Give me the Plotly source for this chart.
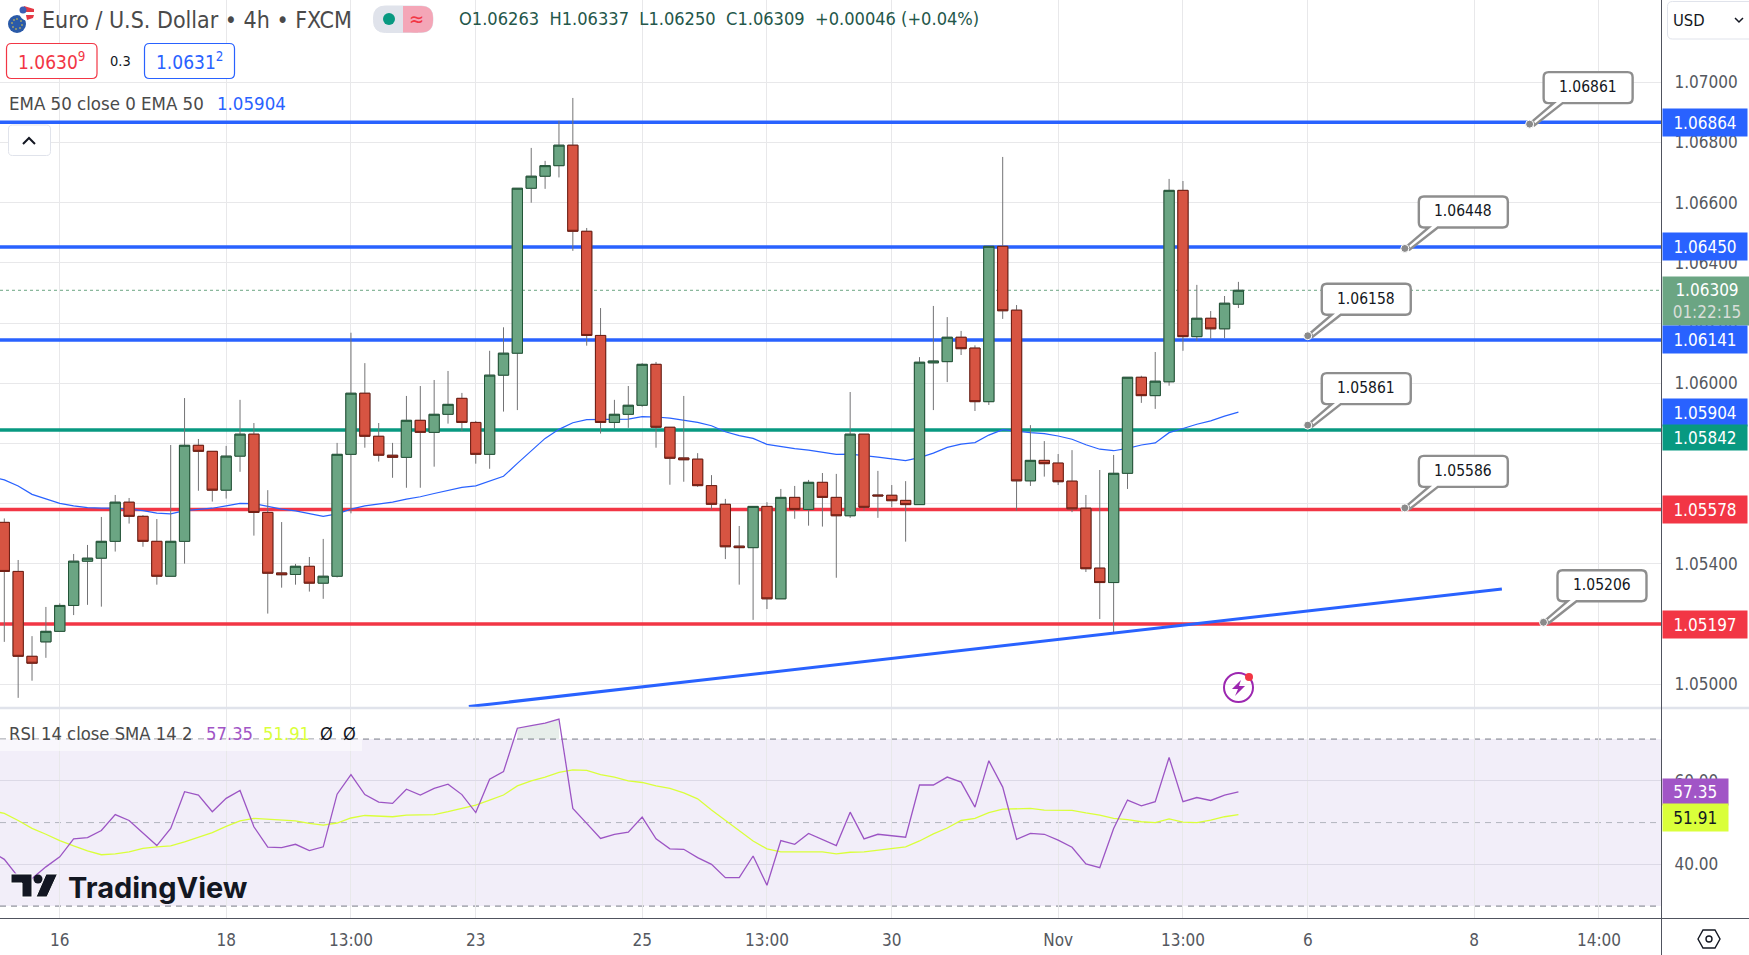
#!/usr/bin/env python3
import numpy as np
import plotly.graph_objects as go
from plotly.subplots import make_subplots

W, H = 1749, 955
FONT = "DejaVu Sans Condensed, DejaVu Sans"

# OHLC, one value per 4h candle
opens = [
    1.05538, 1.05375, 1.05093, 1.05141, 1.05176, 1.05262, 1.05409, 1.05419, 1.05475, 1.05605,
    1.05558, 1.05475, 1.05359, 1.05475, 1.05794, 1.05774, 1.05645, 1.05758, 1.05831, 1.05571,
    1.05370, 1.05365, 1.05392, 1.05336, 1.05359, 1.05764, 1.05967, 1.05824, 1.05761, 1.05754,
    1.05877, 1.05837, 1.05897, 1.05950, 1.05870, 1.05764, 1.06027, 1.06100, 1.06648, 1.06688,
    1.06723, 1.06791, 1.06505, 1.06159, 1.05870, 1.05897, 1.05927, 1.06063, 1.05854, 1.05752,
    1.05748, 1.05660, 1.05598, 1.05459, 1.05454, 1.05591, 1.05284, 1.05621, 1.05581, 1.05671,
    1.05621, 1.05560, 1.05831, 1.05629, 1.05628, 1.05611, 1.05597, 1.06068, 1.06072, 1.06153,
    1.06117, 1.05939, 1.06455, 1.06243, 1.05676, 1.05744, 1.05735, 1.05675, 1.05585, 1.05386,
    1.05338, 1.05701, 1.06020, 1.05959, 1.06005, 1.06641, 1.06155, 1.06216, 1.06181, 1.06263,
]
closes = [
    1.05375, 1.05093, 1.05070, 1.05176, 1.05262, 1.05409, 1.05419, 1.05475, 1.05605, 1.05558,
    1.05475, 1.05359, 1.05475, 1.05794, 1.05774, 1.05645, 1.05758, 1.05831, 1.05571, 1.05369,
    1.05364, 1.05392, 1.05336, 1.05359, 1.05764, 1.05967, 1.05824, 1.05761, 1.05754, 1.05877,
    1.05837, 1.05897, 1.05930, 1.05870, 1.05764, 1.06027, 1.06100, 1.06648, 1.06688, 1.06723,
    1.06791, 1.06505, 1.06159, 1.05870, 1.05897, 1.05927, 1.06063, 1.05854, 1.05751, 1.05746,
    1.05660, 1.05598, 1.05457, 1.05454, 1.05591, 1.05284, 1.05621, 1.05581, 1.05671, 1.05621,
    1.05560, 1.05831, 1.05588, 1.05626, 1.05610, 1.05597, 1.06070, 1.06074, 1.06153, 1.06115,
    1.05939, 1.06455, 1.06241, 1.05676, 1.05744, 1.05733, 1.05673, 1.05583, 1.05384, 1.05338,
    1.05701, 1.06020, 1.05959, 1.06007, 1.06641, 1.06155, 1.06216, 1.06181, 1.06266, 1.06309,
]
highs = [
    1.05551, 1.05413, 1.05160, 1.05257, 1.05269, 1.05433, 1.05463, 1.05556, 1.05629, 1.05619,
    1.05562, 1.05549, 1.05795, 1.05951, 1.05815, 1.05774, 1.05792, 1.05945, 1.05868, 1.05645,
    1.05539, 1.05400, 1.05423, 1.05483, 1.05802, 1.06168, 1.06067, 1.05868, 1.05802, 1.05958,
    1.05991, 1.06011, 1.06041, 1.05968, 1.05875, 1.06108, 1.06186, 1.06648, 1.06782, 1.06739,
    1.06872, 1.06948, 1.06516, 1.06250, 1.05945, 1.05991, 1.06067, 1.06071, 1.05854, 1.05958,
    1.05768, 1.05695, 1.05616, 1.05526, 1.05591, 1.05605, 1.05649, 1.05659, 1.05679, 1.05702,
    1.05699, 1.05971, 1.05831, 1.05709, 1.05662, 1.05675, 1.06087, 1.06257, 1.06220, 1.06174,
    1.06126, 1.06455, 1.06752, 1.06260, 1.05861, 1.05808, 1.05765, 1.05778, 1.05629, 1.05712,
    1.05762, 1.06020, 1.06025, 1.06104, 1.06679, 1.06672, 1.06327, 1.06240, 1.06290, 1.06337,
]
lows = [
    1.05141, 1.04955, 1.05012, 1.05088, 1.05176, 1.05230, 1.05264, 1.05258, 1.05441, 1.05534,
    1.05457, 1.05331, 1.05359, 1.05401, 1.05643, 1.05607, 1.05617, 1.05706, 1.05494, 1.05235,
    1.05321, 1.05331, 1.05308, 1.05284, 1.05355, 1.05568, 1.05786, 1.05740, 1.05686, 1.05653,
    1.05653, 1.05723, 1.05866, 1.05842, 1.05733, 1.05716, 1.05906, 1.05911, 1.06600, 1.06646,
    1.06684, 1.06440, 1.06125, 1.05833, 1.05850, 1.05852, 1.05922, 1.05786, 1.05663, 1.05673,
    1.05656, 1.05580, 1.05416, 1.05331, 1.05214, 1.05250, 1.05284, 1.05550, 1.05527, 1.05524,
    1.05354, 1.05553, 1.05577, 1.05553, 1.05588, 1.05474, 1.05597, 1.05911, 1.06004, 1.06094,
    1.05908, 1.05928, 1.06214, 1.05577, 1.05659, 1.05690, 1.05662, 1.05572, 1.05373, 1.05217,
    1.05167, 1.05649, 1.05935, 1.05915, 1.05992, 1.06108, 1.06141, 1.06148, 1.06150, 1.06250,
]
# indicator series start one bar earlier, off the left edge
ema50 = [
    1.05690,
    1.05679, 1.05659, 1.05631, 1.05616, 1.05601, 1.05593, 1.05587, 1.05585, 1.05585, 1.05582,
    1.05577, 1.05569, 1.05566, 1.05577, 1.05582, 1.05585, 1.05593, 1.05601, 1.05600, 1.05590,
    1.05582, 1.05576, 1.05567, 1.05558, 1.05566, 1.05582, 1.05593, 1.05600, 1.05605, 1.05615,
    1.05623, 1.05634, 1.05645, 1.05654, 1.05659, 1.05674, 1.05691, 1.05734, 1.05776, 1.05817,
    1.05847, 1.05869, 1.05879, 1.05879, 1.05879, 1.05881, 1.05889, 1.05888, 1.05884, 1.05878,
    1.05870, 1.05859, 1.05839, 1.05826, 1.05817, 1.05797, 1.05789, 1.05783, 1.05778, 1.05772,
    1.05764, 1.05765, 1.05761, 1.05755, 1.05749, 1.05743, 1.05753, 1.05768, 1.05787, 1.05798,
    1.05803, 1.05828, 1.05846, 1.05840, 1.05836, 1.05833, 1.05825, 1.05814, 1.05796, 1.05781,
    1.05776, 1.05784, 1.05795, 1.05802, 1.05836, 1.05850, 1.05864, 1.05875, 1.05891, 1.05904,
]
rsi14 = [
    43.2,
    41.2, 37.0, 36.6, 39.4, 41.8, 46.1, 46.4, 48.1, 51.9, 50.5,
    47.6, 44.5, 48.6, 57.4, 56.6, 52.6, 55.8, 57.7, 49.0, 44.1,
    44.0, 44.8, 43.3, 44.2, 56.8, 61.5, 56.7, 54.9, 54.6, 58.0,
    56.6, 58.2, 59.2, 56.7, 52.4, 60.4, 62.2, 72.6, 73.2, 73.8,
    74.8, 53.4, 49.8, 46.2, 47.2, 47.7, 51.3, 46.1, 43.7, 43.6,
    41.6, 40.0, 36.8, 36.8, 42.0, 35.0, 45.7, 44.8, 47.4, 46.0,
    44.5, 52.5, 46.1, 47.2, 46.8, 46.5, 59.0, 59.0, 60.9, 59.7,
    53.7, 64.8, 58.5, 46.0, 47.4, 47.2, 45.8, 44.1, 40.1, 39.2,
    48.6, 55.4, 54.0, 55.0, 65.6, 55.0, 56.0, 55.3, 56.6, 57.35,
]
rsi_sma = [
    52.9,
    52.2, 50.5, 48.6, 47.2, 45.7, 44.4, 43.2, 42.3, 42.5, 43.0,
    43.8, 44.2, 44.4, 45.4, 46.5, 47.6, 49.1, 50.4, 51.0, 50.8,
    50.6, 50.4, 49.8, 49.4, 49.9, 51.1, 51.7, 51.6, 51.4, 51.8,
    51.9, 51.9, 52.6, 53.4, 54.2, 55.4, 56.6, 58.8, 60.0, 60.9,
    62.0, 62.6, 62.5, 61.5, 60.9, 60.0, 59.6, 58.8, 58.2, 57.1,
    55.7, 53.0, 50.5, 48.0, 45.6, 43.7, 43.0, 43.0, 43.0, 43.0,
    42.5, 42.9, 43.0, 43.4, 43.8, 44.2, 45.6, 47.3, 48.7, 50.5,
    51.0, 52.4, 53.2, 53.3, 53.4, 53.0, 53.0, 52.9, 52.3, 51.8,
    51.0, 50.7, 50.2, 50.0, 50.9, 50.1, 50.0, 50.6, 51.4, 51.91,
]

price_ticks = [1.05, 1.052, 1.054, 1.056, 1.058, 1.06, 1.062, 1.064, 1.066, 1.068, 1.07]
rsi_ticks = [40, 60]
rsi_bands = [70, 50, 30]
time_tick_pos = [4, 16, 25, 34, 46, 55, 64, 76, 85, 94, 106, 115]
time_tick_text = ["16", "18", "13:00", "23", "25", "13:00", "30", "Nov", "13:00", "6", "8", "14:00"]

levels = [1.06864, 1.06450, 1.06141, 1.05842, 1.05578, 1.05197]
level_colors = ["#2962FF", "#2962FF", "#2962FF", "#089981", "#F23645", "#F23645"]
level_nudge = 0.00003  # the ruled lines sit about a pixel above their labelled price
last_price = 1.06309
ema_last = 1.05904
trend_x = [33.5, 108]
trend_y = [1.04926, 1.05317]

callout_x = [110, 101, 94, 94, 101, 111]
callout_y = [1.06861, 1.06448, 1.06158, 1.05861, 1.05586, 1.05206]
callout_text = ["1.06861", "1.06448", "1.06158", "1.05861", "1.05586", "1.05206"]

x_range = [-0.31, 119.51]
price_range = [1.049246, 1.072734]
candle_x = list(range(90))
line_x = list(range(-1, 90))


def fx(px):
    return px / W


def fy(py):
    return 1 - py / H


def rounded(x0, y0, x1, y1, r):
    # rounded box path, pixels from the page corner -> paper fractions
    pts = [
        ("M", x0 + r, y0), ("L", x1 - r, y0), ("Q", x1, y0, x1, y0 + r),
        ("L", x1, y1 - r), ("Q", x1, y1, x1 - r, y1), ("L", x0 + r, y1),
        ("Q", x0, y1, x0, y1 - r), ("L", x0, y0 + r), ("Q", x0, y0, x0 + r, y0),
    ]
    out = []
    for p in pts:
        vals = []
        for i, v in enumerate(p[1:]):
            vals.append(f"{fx(v) if i % 2 == 0 else fy(v):.5f}")
        out.append(p[0] + " " + " ".join(vals))
    return " ".join(out) + " Z"


def page_path(points, close=False):
    s = " ".join(
        ("M" if i == 0 else "L") + f" {fx(x):.5f} {fy(y):.5f}" for i, (x, y) in enumerate(points)
    )
    return s + (" Z" if close else "")


fig = make_subplots(rows=2, cols=1, shared_xaxes=True, vertical_spacing=0)


def text(px, py, s, size, color, anchor="left", font=FONT, **kw):
    fig.add_annotation(
        x=fx(px), y=fy(py), xref="paper", yref="paper", text=s, showarrow=False,
        xanchor=anchor, yanchor="middle", font=dict(size=size, color=color, family=font),
        borderpad=0, **kw,
    )


def box(x0, y0, x1, y1, r, line, fill="white", width=1, layer="above"):
    fig.add_shape(
        type="path", path=rounded(x0, y0, x1, y1, r), xref="paper", yref="paper",
        line=dict(color=line, width=width), fillcolor=fill, layer=layer,
    )


def disc(cx, cy, r, fill, line=None, width=0, layer="above"):
    fig.add_shape(
        type="circle", xref="paper", yref="paper",
        x0=fx(cx - r), x1=fx(cx + r), y0=fy(cy - r), y1=fy(cy + r),
        fillcolor=fill, line=dict(color=line or fill, width=width), layer=layer,
    )


def tag(value, yref, s, color, width, height, yshift=0, fcolor="white", size=17):
    fig.add_annotation(
        x=fx(1661.5), xref="paper", y=value, yref=yref, text=s, showarrow=False,
        xanchor="left", yanchor="middle", width=width, height=height, bgcolor=color,
        font=dict(size=size, color=fcolor, family=FONT), align="center", valign="middle",
        borderpad=0, yshift=yshift,
    )


# level lines and EMA sit on the base axis, candles on an overlay so they stay on top
for lvl, c in zip(levels, level_colors):
    fig.add_trace(
        go.Scatter(x=x_range, y=[lvl + level_nudge] * 2, mode="lines", line=dict(color=c, width=3.5)),
        row=1, col=1,
    )
fig.add_trace(
    go.Scatter(x=x_range, y=[last_price] * 2, mode="lines", line=dict(color="#6BA583", width=1, dash="dot")),
    row=1, col=1,
)
fig.add_trace(go.Scatter(x=line_x, y=ema50, mode="lines", line=dict(color="#2962FF", width=1.2)), row=1, col=1)

# grey wicks first, then bodies with their own darker outline
fig.add_trace(
    go.Candlestick(
        x=candle_x, open=opens, high=highs, low=lows, close=closes, whiskerwidth=0,
        xaxis="x", yaxis="y3",
        increasing=dict(line=dict(color="#737375", width=1), fillcolor="#6BA583"),
        decreasing=dict(line=dict(color="#737375", width=1), fillcolor="#D75442"),
    )
)
body_top = np.maximum(opens, closes)
body_bot = np.minimum(opens, closes)
fig.add_trace(
    go.Candlestick(
        x=candle_x, open=opens, high=body_top, low=body_bot, close=closes, whiskerwidth=0,
        xaxis="x", yaxis="y3",
        increasing=dict(line=dict(color="#225437", width=1), fillcolor="#6BA583"),
        decreasing=dict(line=dict(color="#6F1D12", width=1), fillcolor="#D75442"),
    )
)
fig.add_trace(
    go.Scatter(x=trend_x, y=trend_y, mode="lines", line=dict(color="#2962FF", width=3), xaxis="x", yaxis="y3")
)

# RSI pane
over_x = list(range(37, 41))
fig.add_trace(go.Scatter(x=over_x, y=[70] * 4, mode="lines", line=dict(width=0)), row=2, col=1)
fig.add_trace(
    go.Scatter(x=over_x, y=rsi14[38:42], mode="lines", line=dict(width=0), fill="tonexty", fillcolor="rgba(120,160,140,0.18)"),
    row=2, col=1,
)
fig.add_trace(go.Scatter(x=line_x, y=rsi_sma, mode="lines", line=dict(color="#DAFF3A", width=1.3)), row=2, col=1)
fig.add_trace(go.Scatter(x=line_x, y=rsi14, mode="lines", line=dict(color="#9C55C4", width=1.3)), row=2, col=1)

fig.add_shape(
    type="rect", xref="x2", yref="y2", x0=x_range[0], x1=x_range[1], y0=rsi_bands[2], y1=rsi_bands[0],
    fillcolor="rgba(126,87,194,0.1)", line=dict(width=0), layer="below",
)
for b in rsi_bands:
    fig.add_shape(
        type="line", xref="x2", yref="y2", x0=x_range[0], x1=x_range[1], y0=b, y1=b,
        line=dict(color="#787B86" if b != 50 else "#B2B5BE", width=1, dash="6px,5px"), layer="below",
    )

# callouts with a pointer down to the anchor dot
tail_path = (
    "M 3 3 L 24 21 L 19 21 Q 14 21 14 26 L 14 47 Q 14 52 19 52 L 98 52 Q 103 52 103 47 "
    "L 103 26 Q 103 21 98 21 L 33 21 L 5 -1 Z"
)
for cx, cy, s in zip(callout_x, callout_y, callout_text):
    fig.add_shape(
        type="path", xref="x", yref="y", xsizemode="pixel", ysizemode="pixel", xanchor=cx, yanchor=cy,
        path=tail_path, line=dict(color="#8E8E8E", width=2.4), fillcolor="white",
    )
    fig.add_shape(
        type="circle", xref="x", yref="y", xsizemode="pixel", ysizemode="pixel", xanchor=cx, yanchor=cy,
        x0=-4, x1=4, y0=-4, y1=4, fillcolor="#8A8A8A", line=dict(color="white", width=1),
    )
    fig.add_annotation(
        x=cx, y=cy, xref="x", yref="y", text=s, showarrow=False, xshift=58.5, yshift=37,
        font=dict(size=15.5, color="#131722", family=FONT),
    )

# price scale tags
tag(levels[0] + level_nudge, "y", "1.06864", level_colors[0], 84, 27)
tag(levels[1] + level_nudge, "y", "1.06450", level_colors[1], 84, 27)
tag(last_price, "y", "1.06309<br><span style='color:#D8DED9'>01:22:15</span>", "#6BA583", 88, 48, yshift=-10.5)
tag(levels[2] + level_nudge, "y", "1.06141", level_colors[2], 84, 27)
tag(ema_last, "y", "1.05904", "#2962FF", 84, 27)
tag(levels[3] + level_nudge, "y", "1.05842", level_colors[3], 84, 25, yshift=-8)
tag(levels[4] + level_nudge, "y", "1.05578", level_colors[4], 84, 27)
tag(levels[5] + level_nudge, "y", "1.05197", level_colors[5], 84, 27)
tag(rsi14[-1], "y2", "57.35", "#A155C6", 64.5, 25.5)
tag(rsi_sma[-1], "y2", "51.91", "#DAFF3A", 64.5, 27, yshift=-3, fcolor="#131722")

# header: symbol flags, title, status pill, OHLC
disc(17, 24, 9, "#2A5AA8")
for dx, dy in [(0, -5), (4, -3), (5, 1), (3, 4), (-1, 5), (-4, 3), (-5, -1), (-3, -4)]:
    disc(17 + dx, 24 + dy, 0.8, "#F4D03F")
disc(27, 13, 7.5, "white")
fig.add_shape(type="path", path=page_path([(24, 6), (34, 9), (34, 12), (22, 12)], True), xref="paper", yref="paper", fillcolor="#E53945", line=dict(width=0))
fig.add_shape(type="path", path=page_path([(26, 15), (34, 15), (33, 18), (27, 20)], True), xref="paper", yref="paper", fillcolor="#E53945", line=dict(width=0))
disc(23, 10, 3.5, "#3C5DB5")
text(41, 20, "Euro / U.S. Dollar • 4h • FXCM", 23, "#4A4A4A")
box(373.5, 6, 433, 32.5, 12, "#E0E3EB", "#E0E3EB")
fig.add_shape(type="path", path=rounded(403, 6, 433, 32.5, 12), xref="paper", yref="paper", fillcolor="#F4A6B7", line=dict(width=0))
fig.add_shape(type="rect", xref="paper", yref="paper", x0=fx(403), x1=fx(418), y0=fy(6), y1=fy(32.5), fillcolor="#F4A6B7", line=dict(width=0))
disc(389, 19, 6, "#089981")
text(416, 19, "≈", 20, "#F23645", anchor="center")
text(457.5, 19, "O1.06263  H1.06337  L1.06250  C1.06309  +0.00046 (+0.04%)", 18.1, "#24574A")

box(6.5, 43.5, 97, 78.5, 5, "#F23645", width=1.2)
text(51.5, 61, "1.0630<sup>9</sup>", 19, "#F23645", anchor="center")
text(120.5, 61, "0.3", 14.5, "#131722", anchor="center")
box(144.5, 43.5, 234.5, 78.5, 5, "#2962FF", width=1.2)
text(189.5, 61, "1.0631<sup>2</sup>", 19, "#2962FF", anchor="center")
text(8, 103, "EMA 50 close 0 EMA 50", 18.5, "#4A4A4A")
text(216, 103, "1.05904", 18.5, "#2962FF")
box(8.5, 125, 50.5, 155.5, 4, "#E0E3EB")
fig.add_shape(type="path", path=page_path([(23, 144), (29, 138), (35, 144)]), xref="paper", yref="paper", line=dict(color="#131722", width=2))

# currency button
box(1667.5, 1.5, 1760, 39, 5, "#E0E3EB")
text(1672, 20, "USD", 16.5, "#131722")
fig.add_shape(type="path", path=page_path([(1735, 18), (1739, 22), (1743, 18)]), xref="paper", yref="paper", line=dict(color="#131722", width=1.5))

# replay icon
fig.add_shape(
    type="circle", xref="paper", yref="paper", x0=fx(1224), x1=fx(1253), y0=fy(673), y1=fy(702),
    line=dict(color="#9C27B0", width=2), fillcolor="rgba(0,0,0,0)",
)
fig.add_shape(
    type="path", path=page_path([(1241, 680), (1232, 689), (1238, 689), (1235, 696), (1245, 686), (1239, 686)], True),
    xref="paper", yref="paper", fillcolor="#9C27B0", line=dict(width=0),
)
disc(1249, 677, 4, "#F23645")

# RSI legend
fig.add_shape(type="rect", xref="paper", yref="paper", x0=0, x1=fx(362), y0=fy(739), y1=fy(751), fillcolor="rgba(255,255,255,0.55)", line=dict(width=0))
text(8, 733, "RSI 14 close SMA 14 2", 18.3, "#4A4A4A")
text(205, 733, "57.35", 18.3, "#A155C6")
text(262, 733, "51.91", 18.3, "#DAFF3A")
text(319, 733, "Ø", 18, "#131722")
text(342, 733, "Ø", 18, "#131722")

# logo
fig.add_shape(type="path", path=page_path([(11, 874), (32, 874), (32, 897), (22, 897), (22, 883), (11, 883)], True), xref="paper", yref="paper", fillcolor="#131722", line=dict(color="white", width=1))
disc(38, 879, 4.5, "#131722")
fig.add_shape(type="path", path=page_path([(46, 874), (57.5, 874), (47, 897), (36, 897)], True), xref="paper", yref="paper", fillcolor="#131722", line=dict(color="white", width=1))
text(67, 887, "<b>TradingView</b>", 29, "#131722", font="Inter")

# pane separator, axis rules, settings hexagon
fig.add_shape(type="line", xref="paper", yref="paper", x0=0, x1=1, y0=fy(708), y1=fy(708), line=dict(color="#E0E3EB", width=2.5))
fig.add_shape(type="line", xref="paper", yref="paper", x0=0, x1=1, y0=fy(918.5), y1=fy(918.5), line=dict(color="#50535E", width=1))
fig.add_shape(type="line", xref="paper", yref="paper", x0=fx(1661.5), x1=fx(1661.5), y0=0, y1=1, line=dict(color="#50535E", width=1))
fig.add_shape(type="path", path=page_path([(1698, 939), (1703, 930), (1715, 930), (1720, 939), (1715, 948), (1703, 948)], True), xref="paper", yref="paper", line=dict(color="#131722", width=1.4))
fig.add_shape(type="circle", xref="paper", yref="paper", x0=fx(1706), x1=fx(1712), y0=fy(936), y1=fy(942), line=dict(color="#131722", width=1.4))

grid = "#E8E8EA"
fig.update_xaxes(
    range=x_range, domain=[0, fx(1661.5)], rangeslider_visible=False, showgrid=True, gridcolor=grid, gridwidth=1,
    tickvals=time_tick_pos, ticktext=time_tick_text, zeroline=False, showline=False,
    tickfont=dict(size=17, color="#555860", family=FONT), ticks="",
)
fig.update_xaxes(showticklabels=False, row=1, col=1)
fig.update_xaxes(ticklabelstandoff=10, row=2, col=1)
fig.update_yaxes(
    domain=[fy(707), 1], range=price_range, side="right", tickvals=price_ticks,
    ticktext=[f"{v:.5f}" for v in price_ticks], showgrid=True, gridcolor=grid, zeroline=False,
    tickfont=dict(size=17, color="#555860", family=FONT), ticklabelstandoff=12, row=1, col=1,
)
fig.update_yaxes(
    domain=[fy(918), fy(709)], range=[27.15, 77.2], side="right", tickvals=rsi_ticks,
    ticktext=[f"{v:.2f}" for v in rsi_ticks], showgrid=True, gridcolor="#DCD9E6", zeroline=False,
    tickfont=dict(size=17, color="#555860", family=FONT), ticklabelstandoff=12, row=2, col=1,
)
fig.update_layout(
    width=W, height=H, margin=dict(l=0, r=0, t=0, b=0), showlegend=False,
    boxmode="overlay", boxgap=0.26, boxgroupgap=0,
    paper_bgcolor="white", plot_bgcolor="white",
    yaxis3=dict(
        overlaying="y", anchor="x", side="right", range=price_range, domain=[fy(707), 1],
        showgrid=False, zeroline=False, showticklabels=False, ticks="",
    ),
)

# page default margin would push the chart 8px in
fig.write_html("out.html", config={"displayModeBar": False}, post_script="document.body.style.margin='0';")
